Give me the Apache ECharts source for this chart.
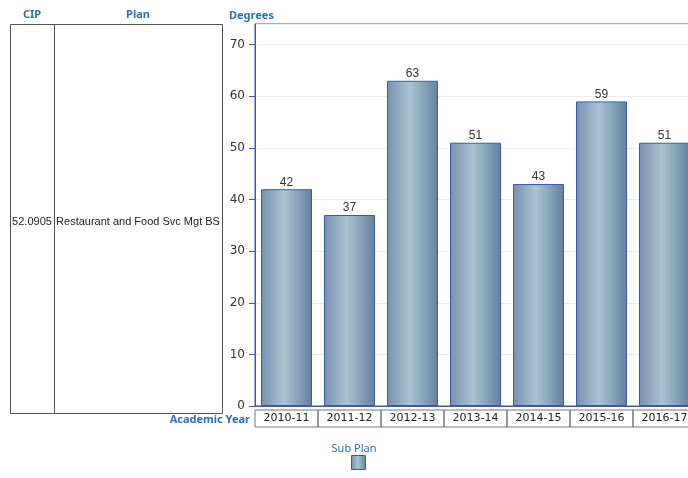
<!DOCTYPE html>
<html><head><meta charset="utf-8">
<script src="https://cdn.jsdelivr.net/npm/echarts@6/dist/echarts.min.js"></script>
<style>html,body{margin:0;padding:0;background:#fff}#c{width:688px;height:478px}</style>
</head><body><div id="c"></div>
<script>
const categories = ['2010-11','2011-12','2012-13','2013-14','2014-15','2015-16','2016-17'];
const degrees = [42, 37, 63, 51, 43, 59, 51];
const cipValue = '52.0905';
const planValue = 'Restaurant and Food Svc Mgt BS';
const seriesName = 'Sub Plan';

const blue = '#2f6fb8';
const hdrFont = '"Noto Sans", "DejaVu Sans", sans-serif';
const chart = echarts.init(document.getElementById('c'));
const barGrad = new echarts.graphic.LinearGradient(0,0,1,0,[
  {offset:0, color:'#7890b0'},
  {offset:0.45, color:'#aac4d4'},
  {offset:1, color:'#64809e'}
]);
chart.setOption({
  animation:false,
  grid:{left:255, top:24, width:441, height:382, show:true, borderColor:'#3a5aa8', borderWidth:1, containLabel:false, outerBoundsMode:'none'},
  legend:{
    data:[seriesName], bottom:3, left:346, itemWidth:14, itemHeight:14,
    formatter:()=>'', icon:'rect', selectedMode:false,
    itemStyle:{borderColor:'#3a5aa8', borderWidth:1}
  },
  xAxis:{
    type:'category', data:categories,
    axisLine:{lineStyle:{color:'#3a5aa8'}},
    axisTick:{show:false},
    axisLabel:{
      interval:0, margin:4, color:'#222', fontSize:11, fontFamily:'"DejaVu Sans", sans-serif',
      width:63, height:17, lineHeight:17, align:'center', overflow:'truncate',
      borderColor:'#777', borderWidth:1, padding:0
    }
  },
  yAxis:{
    type:'value', min:0, max:74, interval:10,
    axisLine:{show:true, lineStyle:{color:'#3a5aa8'}},
    axisTick:{show:true, length:6, lineStyle:{color:'#3a5aa8'}},
    axisLabel:{showMaxLabel:false, color:'#333', fontSize:12, margin:10, fontFamily:'"DejaVu Sans", sans-serif'},
    splitLine:{lineStyle:{color:'#ececec'}}
  },
  series:[{
    name:seriesName, type:'bar', data:degrees, barCategoryGap:'19%',
    itemStyle:{color:barGrad, borderColor:'#3a5aa8', borderWidth:1},
    label:{show:true, position:'top', distance:1, color:'#333', fontSize:12, fontFamily:'"Liberation Sans", Arial, sans-serif'}
  }],
  graphic:[
    {type:'rect', shape:{x:10.5, y:24.5, width:212, height:389}, style:{fill:'none', stroke:'#555', lineWidth:1}},
    {type:'line', shape:{x1:54.5, y1:24.5, x2:54.5, y2:413.5}, style:{stroke:'#555', lineWidth:1}},
    {type:'text', x:32, y:15, style:{text:'CIP', fill:blue, font:'bold 11px '+hdrFont, align:'center', verticalAlign:'middle'}},
    {type:'text', x:138, y:15, style:{text:'Plan', fill:blue, font:'bold 11px '+hdrFont, align:'center', verticalAlign:'middle'}},
    {type:'text', x:229, y:16, style:{text:'Degrees', fill:blue, font:'bold 11px '+hdrFont, align:'left', verticalAlign:'middle'}},
    {type:'text', x:32, y:222, style:{text:cipValue, fill:'#222', font:'11px "Liberation Sans", Arial, sans-serif', align:'center', verticalAlign:'middle'}},
    {type:'text', x:138, y:222, style:{text:planValue, fill:'#222', font:'11px "Liberation Sans", Arial, sans-serif', align:'center', verticalAlign:'middle'}},
    {type:'text', x:250, y:420, style:{text:'Academic Year', fill:blue, font:'bold 11px '+hdrFont, align:'right', verticalAlign:'middle'}},
    {type:'text', x:354, y:449, style:{text:seriesName, fill:blue, font:'11px '+hdrFont, align:'center', verticalAlign:'middle'}}
  ]
});
</script></body></html>
